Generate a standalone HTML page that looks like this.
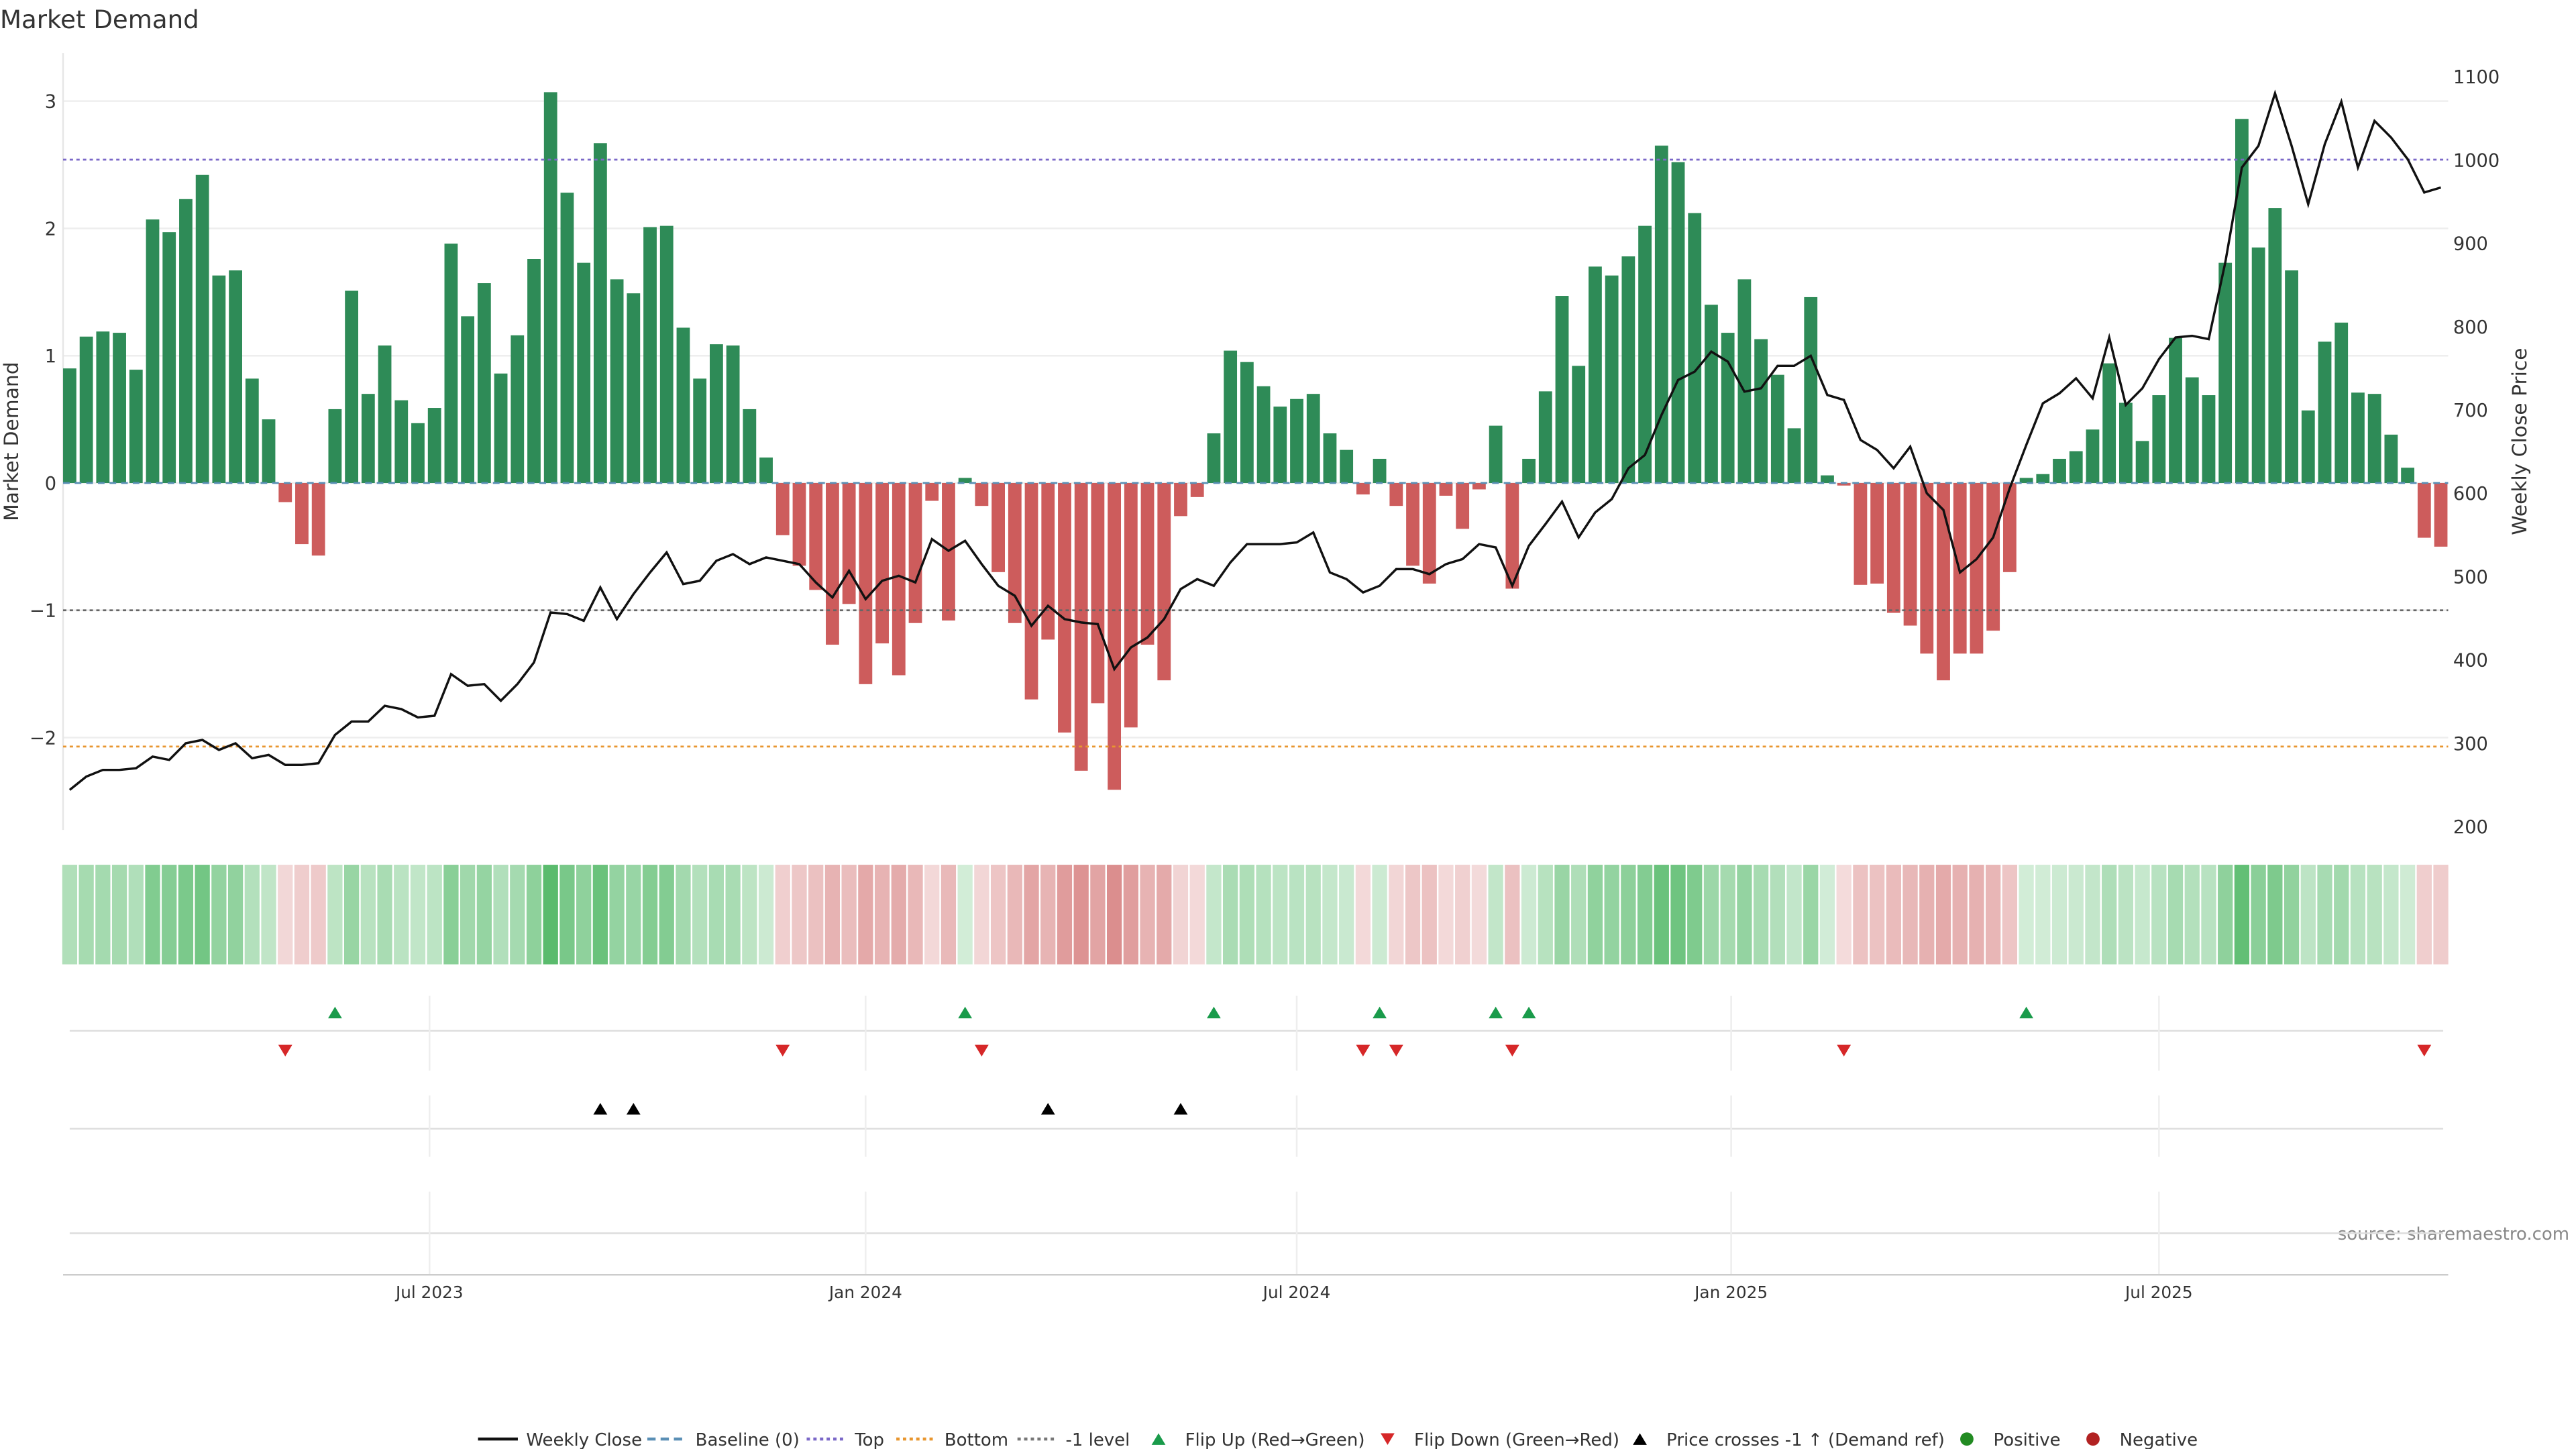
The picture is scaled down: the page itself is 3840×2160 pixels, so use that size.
<!DOCTYPE html>
<html><head><meta charset="utf-8"><style>
html,body{margin:0;padding:0;background:#fff}
svg{display:block;font-family:"DejaVu Sans","Liberation Sans",sans-serif}
</style></head><body>
<svg id="c" width="3840" height="2160" viewBox="0 0 1552 873" xmlns="http://www.w3.org/2000/svg">
<text x="0" y="17" font-size="15" fill="#333">Market Demand</text>
<text transform="translate(11,266) rotate(-90)" text-anchor="middle" font-size="12" fill="#333">Market Demand</text>
<text transform="translate(1522,266) rotate(-90)" text-anchor="middle" font-size="12" fill="#333">Weekly Close Price</text>
<text x="1548" y="747" text-anchor="end" font-size="10.5" fill="#888">source: sharemaestro.com</text>
<g id="g"></g>
</svg>
<script>
const demand=[0.9,1.15,1.19,1.18,0.89,2.07,1.97,2.23,2.42,1.63,1.67,0.82,0.5,-0.15,-0.48,-0.57,0.58,1.51,0.7,1.08,0.65,0.47,0.59,1.88,1.31,1.57,0.86,1.16,1.76,3.07,2.28,1.73,2.67,1.6,1.49,2.01,2.02,1.22,0.82,1.09,1.08,0.58,0.2,-0.41,-0.65,-0.84,-1.27,-0.95,-1.58,-1.26,-1.51,-1.1,-0.14,-1.08,0.04,-0.18,-0.7,-1.1,-1.7,-1.23,-1.96,-2.26,-1.73,-2.41,-1.92,-1.27,-1.55,-0.26,-0.11,0.39,1.04,0.95,0.76,0.6,0.66,0.7,0.39,0.26,-0.09,0.19,-0.18,-0.65,-0.79,-0.1,-0.36,-0.05,0.45,-0.83,0.19,0.72,1.47,0.92,1.7,1.63,1.78,2.02,2.65,2.52,2.12,1.4,1.18,1.6,1.13,0.85,0.43,1.46,0.06,-0.02,-0.8,-0.79,-1.02,-1.12,-1.34,-1.55,-1.34,-1.34,-1.16,-0.7,0.04,0.07,0.19,0.25,0.42,0.94,0.63,0.33,0.69,1.14,0.83,0.69,1.73,2.86,1.85,2.16,1.67,0.57,1.11,1.26,0.71,0.7,0.38,0.12,-0.43,-0.5];
const price=[244,260,268,268,270,284,280,300,304,292,300,282,286,274,274,276,310,326,326,345,341,331,333,383,369,371,351,371,397,457,455,447,487,449,479,505,529,491,495,519,527,515,523,519,515,493,475,507,473,495,501,493,545,531,543,515,489,477,441,465,449,445,443,389,415,427,449,485,497,489,517,539,539,539,541,553,505,497,481,489,509,509,503,515,521,539,535,489,537,563,590,547,577,593,630,646,694,736,746,770,758,722,726,753,753,765,718,712,664,652,630,656,600,580,505,521,547,606,658,708,720,738,714,787,706,726,761,787,789,785,877,991,1017,1080,1017,947,1019,1070,991,1047,1027,1001,961,967];
const leftTicks=[3,2,1,0,-1,-2];
const leftTickLabels=["3","2","1","0","\u22121","\u22122"];
const rightTicks=[200,300,400,500,600,700,800,900,1000,1100];
const dateTickIdx=[21.7,48,74,100.2,126];
const dateTickLabels=["Jul 2023","Jan 2024","Jul 2024","Jan 2025","Jul 2025"];
const topLevel=2.54, bottomLevel=-2.07, minusOneLevel=-1, crossPrice=459;

const NS="http://www.w3.org/2000/svg";
const g=document.getElementById('g');
const X0=38,X1=1475;
const xi=i=>42+i*9.99;
const yl=v=>291-76.7*v;
const yp=p=>498-(p-200)*0.502;
function el(tag,a,parent){const e=document.createElementNS(NS,tag);for(const k in a)e.setAttribute(k,a[k]);(parent||g).appendChild(e);return e;}

// grid + ticks left
leftTicks.forEach((t,k)=>{
 const l=el('line',{x1:X0,x2:X1,y1:yl(t),y2:yl(t),stroke:'#eee','stroke-width':1});
 
 
 const tx=el('text',{x:34,y:yl(t)+4,'text-anchor':'end','font-size':11,fill:'#333'});
 tx.textContent=leftTickLabels[k];
 
 
});
rightTicks.forEach(t=>{
 const tx=el('text',{x:1478,y:yp(t)+4,'font-size':11,fill:'#333'});
 tx.textContent=String(t);
 
 
});
el('line',{x1:X0,x2:X0,y1:32,y2:500,stroke:'#e6e6e6'});

// bars
demand.forEach((v,i)=>{
 const y=Math.min(yl(v),yl(0)),h=Math.abs(yl(v)-yl(0));
 const r=el('rect',{x:xi(i)-4,y:y,width:8,height:Math.max(h,0.6),fill:v>=0?'#2e8b57':'#cd5c5c'});
 
 
});
// reference lines
function hl(v,col,dash,name){const l=el('line',{x1:X0,x2:X1,y1:yl(v),y2:yl(v),stroke:col,'stroke-width':1.1,'stroke-dasharray':dash});
 
 }
hl(0,'#5a8fb5','4 3','baseline-line');
hl(topLevel,'#7b68c8','2 2','top-line');
hl(bottomLevel,'#e8962f','2 2','bottom-line');
hl(minusOneLevel,'#666','2 2','minus-one-line');
// price line
const pl=el('polyline',{points:price.map((p,i)=>xi(i)+','+yp(p)).join(' '),fill:'none',stroke:'#111','stroke-width':1.4});



// heat strip
demand.forEach((v,i)=>{
 const a=Math.min(Math.abs(v)/3.1,1);
 let c;
 if(v>=0){const l=88-a*34;c=`hsl(132,42%,${l}%)`;}
 else{const l=91-a*26;c=`hsl(0,52%,${l}%)`;}
 const r=el('rect',{x:xi(i)-4.5,y:521,width:9,height:60,fill:c});
 
 
});

// lower panels
[[600,645,621],[660,697,680],[718,768,743]].forEach(p=>{
 el('line',{x1:42,x2:1472,y1:p[2],y2:p[2],stroke:'#ddd'});
 dateTickIdx.forEach(d=>el('line',{x1:xi(d),x2:xi(d),y1:p[0],y2:p[1],stroke:'#eee'}));
});
el('line',{x1:X0,x2:X1,y1:768,y2:768,stroke:'#ccc'});
dateTickIdx.forEach((d,k)=>{
 const t=el('text',{x:xi(d),y:782,'text-anchor':'middle','font-size':10,fill:'#333'});
 t.textContent=dateTickLabels[k];
 
 
});
function tri(x,y,up,col){const s=4.2;
 return el('path',{d:up?`M${x-s},${y+3.5}L${x+s},${y+3.5}L${x},${y-3.5}Z`:`M${x-s},${y-3.5}L${x+s},${y-3.5}L${x},${y+3.5}Z`,fill:col});}
for(let i=1;i<demand.length;i++){
 if(demand[i-1]<0&&demand[i]>=0){const m=tri(xi(i),610,true,'#1a9b4b');
  
  }
 if(demand[i-1]>=0&&demand[i]<0){const m=tri(xi(i),633,false,'#d62728');
  
  }
 if(price[i-1]<crossPrice&&price[i]>=crossPrice){const m=tri(xi(i),668,true,'#000');
  
  }
}

// legend
const L=el('g',{});


const items=[['line','#111','','Weekly Close',288],['line','#5a8fb5','5 3','Baseline (0)',390],['line','#7b68c8','2 2','Top',486],['line','#e8962f','2 2','Bottom',540],['line','#777','2 2','-1 level',613],['up','#1a9b4b','','Flip Up (Red\u2192Green)',693],['down','#d62728','','Flip Down (Green\u2192Red)',831],['up','#000','','Price crosses -1 \u2191 (Demand ref)',983],['dot','#228b22','','Positive',1180],['dot','#b22222','','Negative',1256]];
items.forEach(it=>{
 const x=it[4],y=867;
 if(it[0]==='line')el('line',{x1:x,x2:x+24,y1:y,y2:y,stroke:it[1],'stroke-width':1.8,'stroke-dasharray':it[2]},L);
 else if(it[0]==='dot')el('circle',{cx:x+5,cy:y,r:4,fill:it[1]},L);
 else L.appendChild(tri(x+5,y,it[0]==='up',it[1]));
 const t=el('text',{x:x+(it[0]==='line'?29:21),y:y+4,'font-size':10.5,fill:'#333'},L);
 t.textContent=it[3];
 
 
});
</script>
</body></html>
